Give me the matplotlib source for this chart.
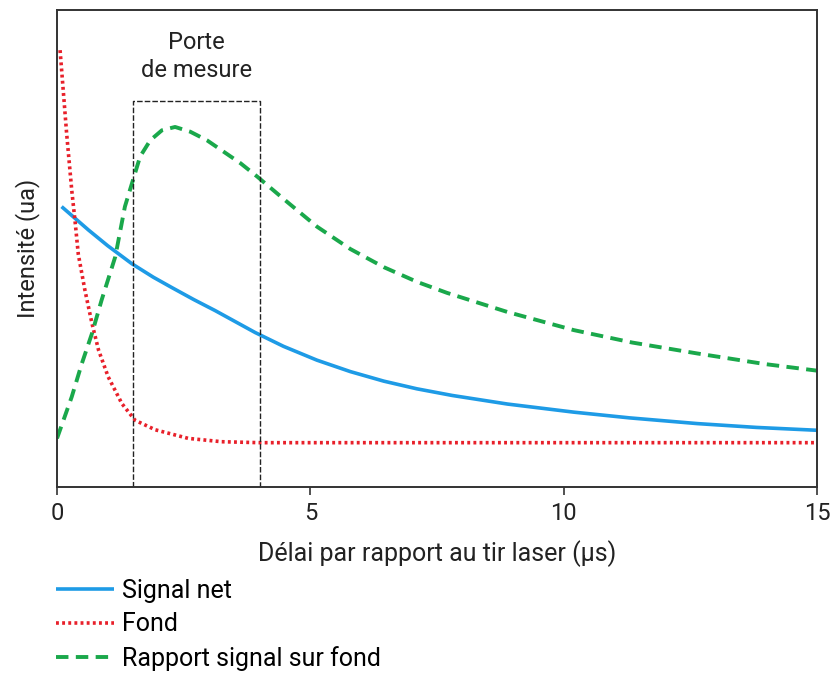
import matplotlib
matplotlib.use("Agg")
import matplotlib.pyplot as plt

plt.rcParams['font.family'] = ['Roboto', 'DejaVu Sans']

# Signal net (blue)
signal_x = [0.09, 0.62, 1.0, 1.48, 1.9, 2.27, 2.7, 3.12, 3.91, 4.47, 5.13, 5.79, 6.45, 7.1, 7.8, 8.89,
            10.2, 11.3, 12.64, 13.8, 15.0]
signal_y = [58.8, 53.9, 50.6, 46.8, 44.0, 41.8, 39.3, 37.0, 32.4, 29.5, 26.6, 24.2, 22.2, 20.6, 19.2, 17.4,
            15.7, 14.5, 13.3, 12.5, 11.9]

# Fond (red)
fond_x = [0.06, 0.19, 0.29, 0.36, 0.42, 0.55, 0.69, 0.82, 1.01, 1.28, 1.54, 1.94, 2.59, 3.25, 4.0, 7.6, 11.3, 15.0]
fond_y = [91.6, 74.1, 62.3, 55.3, 48.8, 41.3, 34.3, 28.7, 23.1, 17.5, 14.0, 12.0, 10.2, 9.5, 9.3, 9.3, 9.3, 9.3]

# Rapport signal sur fond (green)
rapport_x = [0.0, 0.29, 0.49, 0.69, 0.88, 1.15, 1.34, 1.48, 1.64, 1.84, 2.07, 2.33, 2.63, 2.96, 3.29,
             3.62, 3.95, 4.54, 5.13, 5.79, 6.45, 7.11, 7.7, 8.89, 10.2, 11.35, 12.64, 13.96, 15.0]
rapport_y = [10.2, 18.9, 25.9, 32.2, 39.2, 48.3, 58.8, 63.7, 69.3, 72.7, 74.8, 75.5, 74.5, 72.7, 70.3,
             67.9, 65.1, 59.8, 54.6, 49.9, 46.1, 43.0, 40.7, 36.7, 32.9, 30.3, 28.0, 25.8, 24.4]

# Measurement gate
gate_x = [1.5, 4.0]
gate_top = 81

xticks = [0, 5, 10, 15]

fig = plt.figure(figsize=(8.3, 6.74), dpi=100)
ax = fig.add_axes([0.0687, 0.2774, 0.9157, 0.7076])

blue = '#1E9BE6'
red = '#E8202A'
green = '#1AA84B'
txt = '#222222'
fs = 17
fs_big = 18

l1, = ax.plot(signal_x, signal_y, color=blue, lw=2.6, solid_capstyle='butt', solid_joinstyle='round',
              label='Signal net')
l2, = ax.plot(fond_x, fond_y, color=red, lw=2.6, linestyle=(0, (0.8, 0.9)), label='Fond')
l3, = ax.plot(rapport_x, rapport_y, color=green, lw=2.8, linestyle=(0, (3.2, 1.9)),
              label='Rapport signal sur fond')

ax.plot([gate_x[0], gate_x[0], gate_x[1], gate_x[1]], [0, gate_top, gate_top, 0],
        color=txt, lw=1.0, linestyle=(0, (4, 1.5)))
ax.text((gate_x[0] + gate_x[1]) / 2 - 0.0, 90.3, 'Porte\nde mesure', ha='center', va='center',
        fontsize=fs, color=txt, linespacing=1.25)

ax.set_xlim(0, 15)
ax.set_ylim(0, 100)
ax.set_xticks(xticks)
ax.set_xticklabels([str(t) for t in xticks], fontsize=fs, color=txt)
ax.set_yticks([])
ax.tick_params(axis='x', direction='out', length=6, width=1.2, color='#333333', pad=5)
for s in ax.spines.values():
    s.set_color('#333333')
    s.set_linewidth(1.4)
ax.set_xlabel('Délai par rapport au tir laser (µs)', fontsize=fs_big, color=txt, labelpad=11)
ax.set_ylabel('Intensité (ua)', fontsize=fs, color=txt, labelpad=12)

fig.legend(handles=[l1, l2, l3], loc='upper left', bbox_to_anchor=(0.067, 0.141),
           frameon=False, fontsize=fs_big, handlelength=2.35, handletextpad=0.3,
           labelspacing=0.38, borderpad=0, borderaxespad=0)

fig.savefig('out.png', dpi=100)
